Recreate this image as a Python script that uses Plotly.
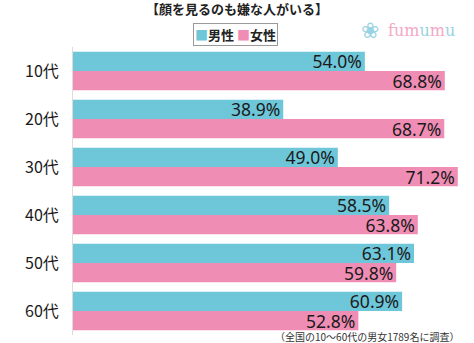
import plotly.graph_objects as go

categories = ["10代", "20代", "30代", "40代", "50代", "60代"]
male = [54.0, 38.9, 49.0, 58.5, 63.1, 60.9]
female = [68.8, 68.7, 71.2, 63.8, 59.8, 52.8]
series_names = ["男性", "女性"]
title_text = "【顔を見るのも嫌な人がいる】"
note_text = "（全国の10～60代の男女1789名に調査）"

BLUE = "#6EC6D9"
PINK = "#F08DB5"
JP = "Noto Sans CJK JP"
NUM = "Noto Sans, Noto Sans CJK JP"

fig = go.Figure()
for name, vals, col in [(series_names[0], male, BLUE), (series_names[1], female, PINK)]:
    fig.add_trace(go.Bar(
        y=categories, x=vals, name=name, orientation="h",
        marker=dict(color=col, line=dict(width=0)),
        text=[f"{v:.1f}%" for v in vals],
        textposition="inside", insidetextanchor="end",
        constraintext="none",
        textfont=dict(family=NUM, size=17.5, color="#1a1a1a"),
        hoverinfo="skip",
    ))

fig.update_layout(
    width=474, height=343,
    margin=dict(l=73, r=0, t=47, b=8),
    barmode="group", bargap=0.2, bargroupgap=0,
    showlegend=False,
    paper_bgcolor="white", plot_bgcolor="white",
    title=dict(text="<b>" + title_text + "</b>", x=0.5, xref="container", xanchor="center",
               y=1 - 9 / 343, yref="container", yanchor="middle",
               font=dict(family=JP, size=13, color="#222")),
    xaxis=dict(range=[0, 74.2], visible=False, fixedrange=True),
    yaxis=dict(autorange="reversed", showline=True, linecolor="#dcdcdc", linewidth=1,
               showgrid=False, ticks="", ticklabelstandoff=10,
               tickfont=dict(family=JP, size=16, color="#1a1a1a")),
)

# legend box
fig.add_annotation(
    xref="paper", yref="paper", x=(235.5 - 73) / 401, y=(335 - 34) / 288,
    xanchor="center", yanchor="middle", showarrow=False,
    text=f"<span style='color:{BLUE}'>■</span><b>{series_names[0]}</b> <span style='color:{PINK}'>■</span><b>{series_names[1]}</b>",
    font=dict(family=JP, size=13, color="#222"),
    bordercolor="#9a9a9a", borderwidth=1, borderpad=1, bgcolor="white",
)

# logo
fig.add_annotation(
    xref="paper", yref="paper", x=(370 - 73) / 401, y=(335 - 30) / 288,
    xanchor="center", yanchor="middle", showarrow=False,
    text="❀", font=dict(family="DejaVu Sans", size=22, color="#9ad3e3"),
)
fig.add_annotation(
    xref="paper", yref="paper", x=(386 - 73) / 401, y=(335 - 31) / 288,
    xanchor="left", yanchor="middle", showarrow=False,
    text=(f"<span style='color:#f2a9c6'>fum</span><span style='color:#9ad3e3'>u</span>"
          f"<span style='color:#f2a9c6'>m</span><span style='color:#9ad3e3'>u</span>"),
    font=dict(family="DejaVu Serif", size=16),
)

# footnote
fig.add_annotation(
    xref="paper", yref="paper", x=(461 - 73) / 401, y=0,
    xanchor="right", yanchor="middle", yshift=-1, showarrow=False,
    text=note_text, font=dict(family=JP, size=10, color="#333"),
)

fig.write_html("out.html")
